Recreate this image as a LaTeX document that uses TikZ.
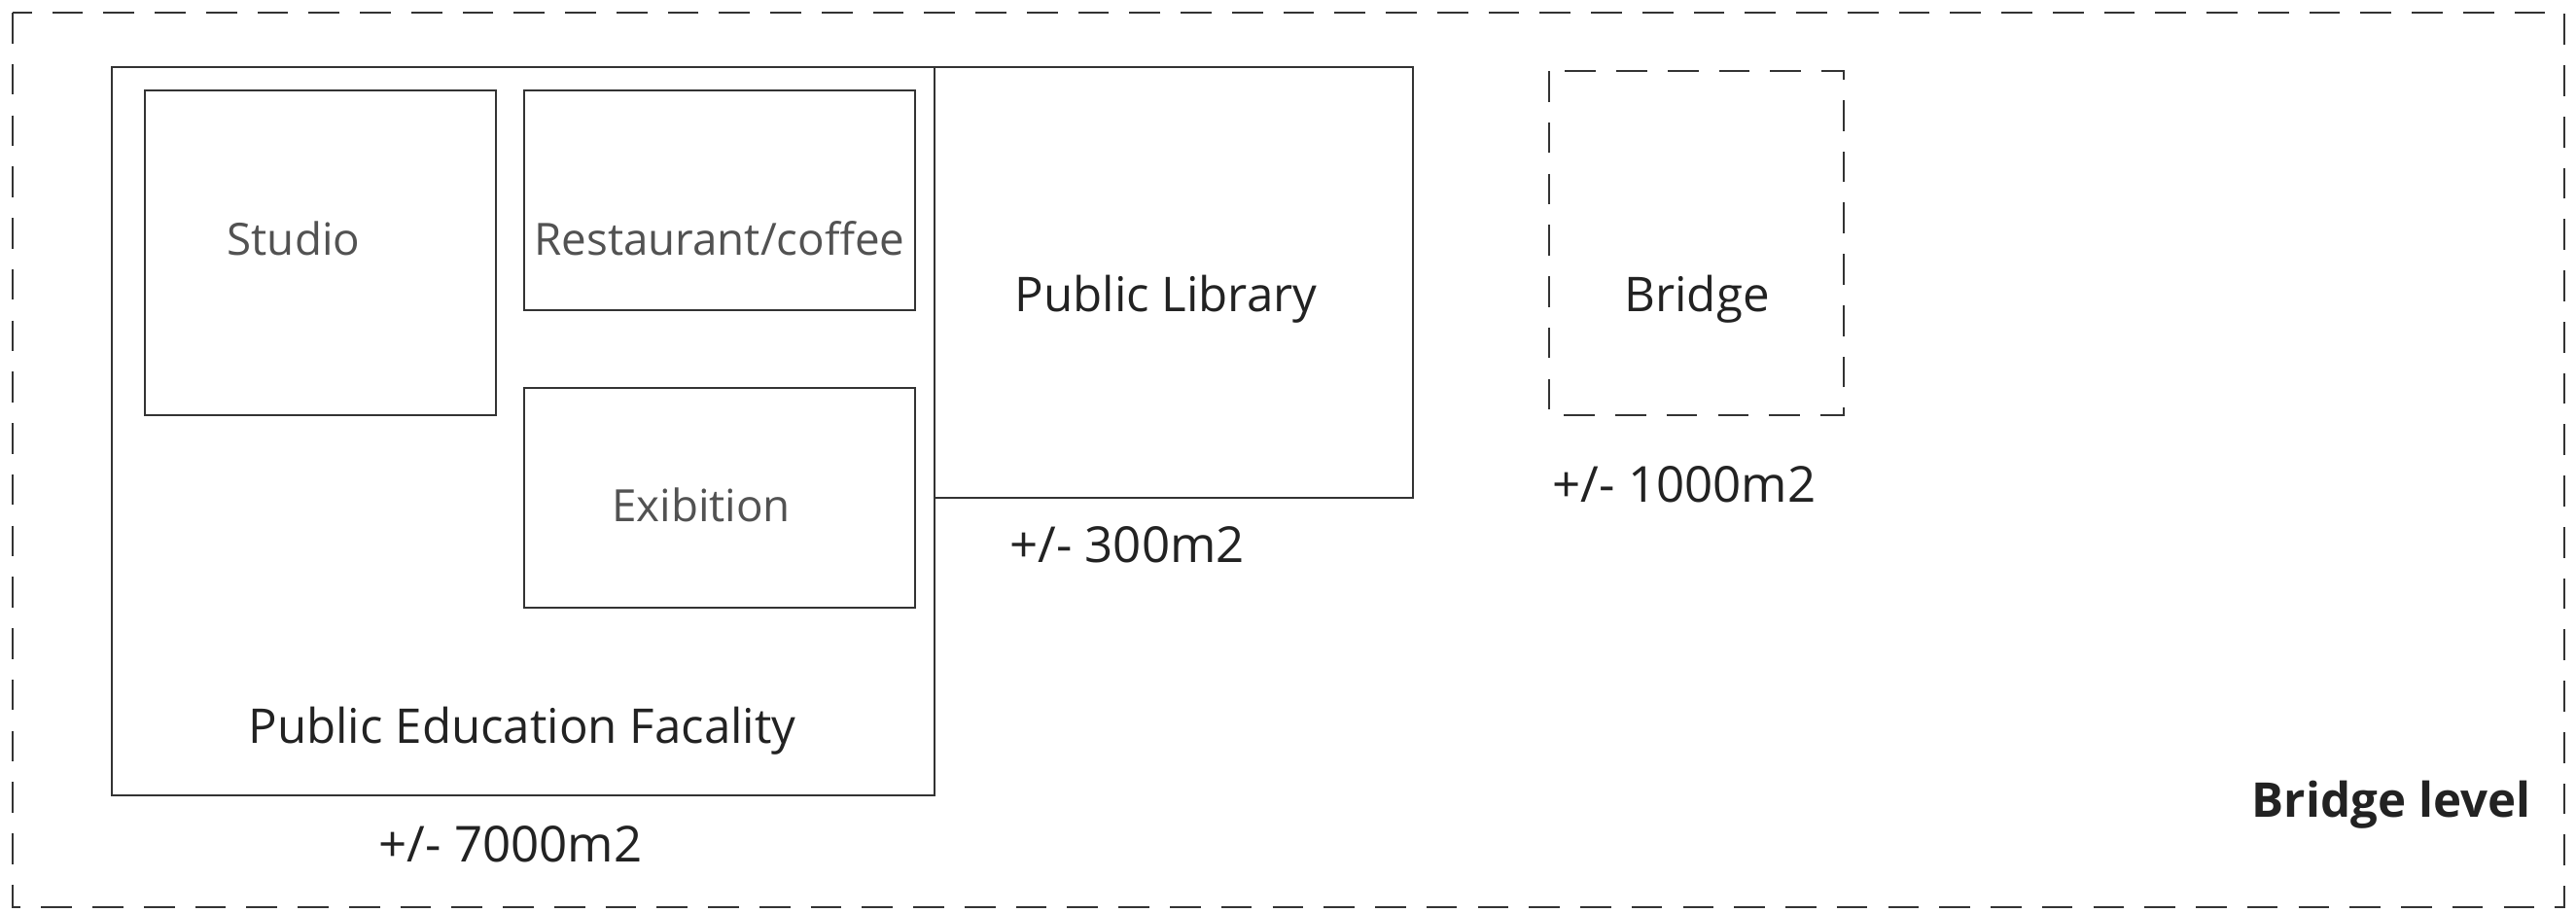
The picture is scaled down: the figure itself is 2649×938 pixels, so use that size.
\documentclass[tikz,border=0pt]{standalone}
\usepackage{fontspec}
\setmainfont{Open Sans}
\usetikzlibrary{positioning}
\definecolor{ink}{HTML}{333333}
\definecolor{txt}{HTML}{222222}

\begin{document}
\begin{tikzpicture}[x=0.01cm,y=-0.01cm,
    room/.style={draw=ink,line width=0.75pt},
    zone/.style={draw=ink,line width=0.75pt,dash pattern=on 9pt off 6pt},
    lbl/.style={font=\fontsize{14}{16}\selectfont,text=txt,inner sep=0pt},
    thin/.style={font=\fontsize{13}{15}\selectfont,text=ink!85,inner sep=0pt},
    area/.style={font=\fontsize{14.5}{17}\selectfont,text=txt,inner sep=0pt}]
  \useasboundingbox (0,0) rectangle (2649,938);

  % Level outline
  \draw[zone] (13,13) rectangle (2637,933);
  \node[font=\bfseries\fontsize{14}{16}\selectfont,text=txt,inner sep=0pt,anchor=east] (level) at (2603,828) {Bridge level};

  % Public education
  \draw[room] (115,69) rectangle (961,818);
  \draw[room] (149,93) rectangle (510,427);
  \draw[room] (539,93) rectangle (941,319);
  \draw[room] (539,399) rectangle (941,625);
  \node[thin] (studio) at (302,245) {Studio};
  \node[thin] (rest) at (740,245) {Restaurant/coffee};
  \node[thin] (exib) at (721,519) {Exibition};
  \node[lbl] (edu) at (537,752) {Public Education Facality};
  \node[area] (eduarea) at (525,868) {+/- 7000m2};

  % Library
  \draw[room] (961,69) rectangle (1453,512);
  \node[lbl] (lib) at (1199,308) {Public Library};
  \node[area] (libarea) at (1159,560) {+/- 300m2};

  % Bridge
  \draw[zone] (1593,73) rectangle (1896,427);
  \node[lbl] (bridge) at (1745,308) {Bridge};
  \node[area] (bridgearea) at (1732,498) {+/- 1000m2};
\end{tikzpicture}
\end{document}
